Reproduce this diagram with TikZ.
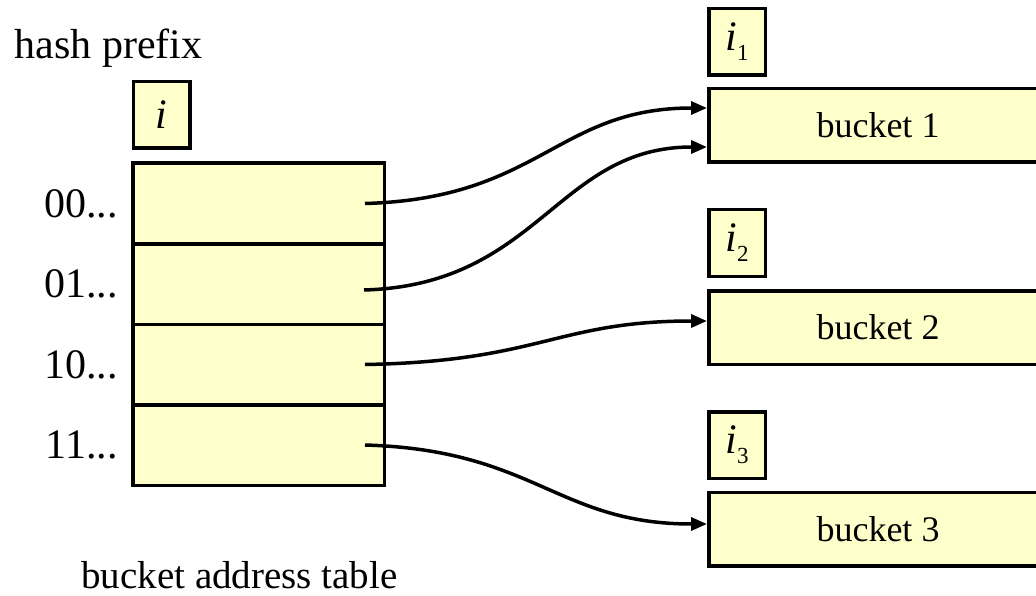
\documentclass[tikz,border=0pt]{standalone}
\usepackage{fontspec}
\setmainfont{Liberation Serif}
\usetikzlibrary{arrows.meta}
\definecolor{cellfill}{HTML}{FFFFCC}
% lowered small index after an italic letter
\newcommand\lvl[1]{\raisebox{-10pt}{\fontsize{23}{24}\selectfont #1}}
\begin{document}
\begin{tikzpicture}[x=1pt,y=-1pt,
  box/.style={draw=black,line width=3.5pt,fill=cellfill,inner sep=0pt},
  cell/.style={box,minimum width=251.5pt,minimum height=80.5pt},
  tag/.style={box,minimum width=56.5pt,minimum height=66.5pt,font=\fontsize{42}{48}\selectfont},
  bucket/.style={box,minimum width=338.5pt,minimum height=73.5pt,font=\fontsize{36}{42}\selectfont},
  lbl/.style={inner sep=0pt,font=\fontsize{42}{48}\selectfont},
  link/.style={line width=3.5pt,-{Triangle[length=16pt,width=13pt]}}]
\useasboundingbox (0,0) rectangle (1036,596);
\clip (0,0) rectangle (1036,596);

% bucket address table
\node[lbl,anchor=base] (hp) at (108.5,59) {hash prefix};
\node[tag] (it) at (161.5,115) {\textit{i}};
\node[cell] (r0) at (258.5,203.5) {};
\node[cell] (r1) at (258.5,284) {};
\node[cell] (r2) at (258.5,364.5) {};
\node[cell] (r3) at (258.5,445) {};
\node[lbl,anchor=east] (l0) at ([xshift=-13pt]r0.west) {00...};
\node[lbl,anchor=east] (l1) at ([xshift=-13pt]r1.west) {01...};
\node[lbl,anchor=east] (l2) at ([xshift=-13pt]r2.west) {10...};
\node[lbl,anchor=east] (l3) at ([xshift=-13pt]r3.west) {11...};
\node[lbl,anchor=base,font=\fontsize{39}{46}\selectfont] (cap) at (239.5,588) {bucket address table};

% buckets with their local depths
\node[tag] (i1) at (737,42) {\textit{i}\lvl{1}};
\node[bucket] (b1) at (878,125.5) {bucket 1};
\node[tag] (i2) at (737,243) {\textit{i}\lvl{2}};
\node[bucket] (b2) at (878,327.5) {bucket 2};
\node[tag] (i3) at (737,445) {\textit{i}\lvl{3}};
\node[bucket] (b3) at (878,529) {bucket 3};

% pointers from table entries to buckets
\draw[link] ([xshift=-21pt]r0.east) .. controls +(175,-5) and +(-150,0) .. ([yshift=17.5pt]b1.west);
\draw[link] ([xshift=-22pt,yshift=-6pt]r1.east) .. controls +(175,-5) and +(-150,0) .. ([yshift=-21.5pt]b1.west);
\draw[link] ([xshift=-21pt]r2.east) .. controls +(175,-3) and +(-150,0) .. ([yshift=6.5pt]b2.west);
\draw[link] ([xshift=-21pt]r3.east) .. controls +(170,5) and +(-150,0) .. ([yshift=5pt]b3.west);
\end{tikzpicture}
\end{document}
